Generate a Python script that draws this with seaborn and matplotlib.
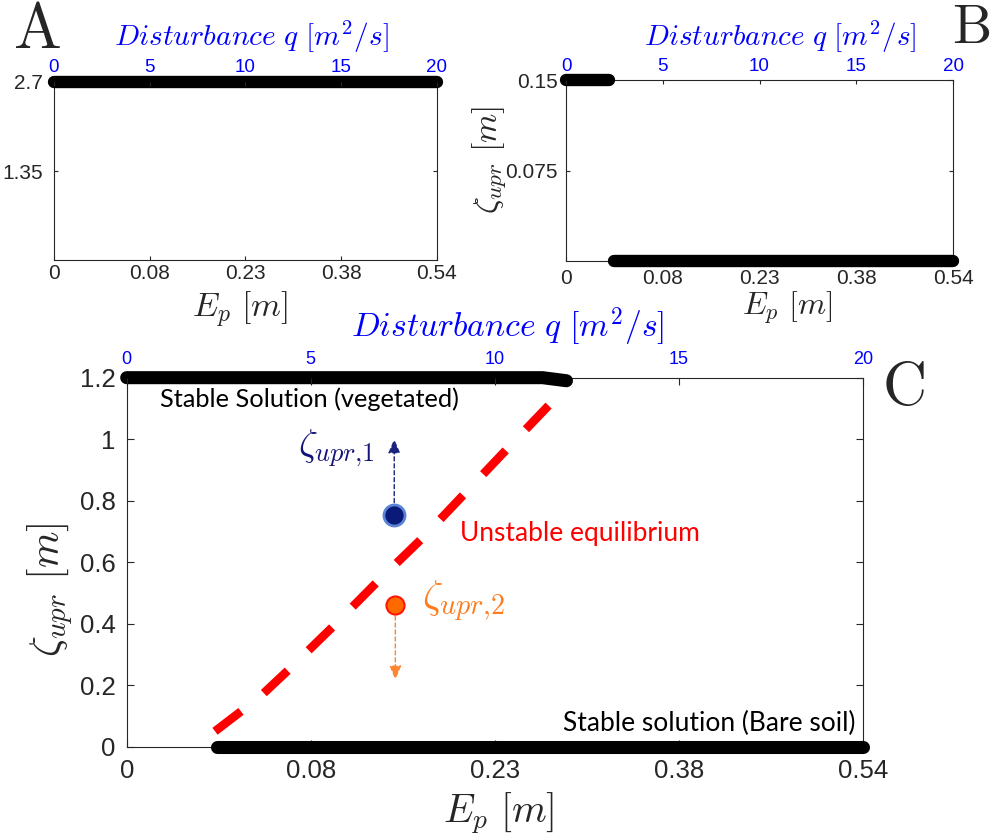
import matplotlib
matplotlib.use('Agg')
import matplotlib.pyplot as plt
import seaborn as sns

sns.set_theme(style='white')
plt.rcParams['font.family'] = ['Liberation Sans', 'DejaVu Sans']
plt.rcParams['mathtext.fontset'] = 'cm'

# ---------------- data ----------------
q_ticks = [0, 5, 10, 15, 20]
ep_labels = ['0', '0.08', '0.23', '0.38', '0.54']

# panel A
a_q = [0, 20]
a_zeta = [2.7, 2.7]
a_yticks = [1.35, 2.7]

# panel B
b_veg_q = [0, 2.2]
b_veg_zeta = [0.15, 0.15]
b_bare_q = [2.5, 20]
b_bare_zeta = [0, 0]
b_yticks = [0.075, 0.15]

# panel C
c_veg_q = [0, 11.3, 11.95]
c_veg_zeta = [1.2, 1.2, 1.19]
c_bare_q = [2.45, 20]
c_bare_zeta = [0, 0]
c_unst_q = [2.4, 3.6, 4.4, 5.6, 6.8, 8.05, 9.2, 10.35, 11.55]
c_unst_zeta = [0.05, 0.16, 0.25, 0.39, 0.535, 0.68, 0.825, 0.97, 1.12]
c_yticks = [0, 0.2, 0.4, 0.6, 0.8, 1.0, 1.2]
c_ylabels = ['0', '0.2', '0.4', '0.6', '0.8', '1', '1.2']
p1_q, p1_zeta, p1_tip = 7.27, 0.753, 1.0
p2_q, p2_zeta, p2_tip = 7.3, 0.461, 0.218

DARK = '#262626'
BLUE = '#0000ff'


def style_axes(ax, ylim, yticks, ylabels, size, tlen, pad_b, pad_l, top_size, pad_t):
    ax.set_xlim(0, 20)
    ax.set_ylim(*ylim)
    ax.set_xticks(q_ticks)
    ax.set_xticklabels(ep_labels)
    ax.set_yticks(yticks)
    ax.set_yticklabels(ylabels)
    ax.tick_params(axis='x', direction='in', length=tlen, width=0.8, colors=DARK,
                   labelsize=size, pad=pad_b, bottom=True, top=False)
    ax.tick_params(axis='y', direction='in', length=tlen, width=0.8, colors=DARK,
                   labelsize=size, pad=pad_l, left=True, right=True)
    for s in ax.spines.values():
        s.set_color(DARK)
        s.set_linewidth(0.8)
    ax.set_xlabel('')
    ax.set_ylabel('')
    top = ax.twiny()
    top.set_xlim(0, 20)
    top.set_xticks(q_ticks)
    top.tick_params(axis='x', direction='in', length=tlen, width=0.8, color=DARK,
                    labelcolor=BLUE, labelsize=top_size, pad=pad_t)
    for s in top.spines.values():
        s.set_visible(False)
    return top


fig = plt.figure(figsize=(9.96, 8.35), dpi=100)
axA = fig.add_axes([0.0542, 0.6886, 0.3845, 0.2132])
axB = fig.add_axes([0.5683, 0.6874, 0.3886, 0.2164])
axC = fig.add_axes([0.1272, 0.1058, 0.7390, 0.4419])

# ---------- A ----------
sns.lineplot(x=a_q, y=a_zeta, ax=axA, color='black', lw=8.9,
             solid_capstyle='round', clip_on=False, zorder=5)
topA = style_axes(axA, (0, 2.7), a_yticks, ['1.35', '2.7'], 15, 3, 3, 8, 13.5, 4)
axA.set_xlabel(r'$E_p\ [m]$', fontsize=24.5, va='center', ha='center')
axA.xaxis.set_label_coords(0.486, -0.275)
topA.set_xlabel(r'$Disturbance\ q\ [m^2/s]$', fontsize=21.2, color=BLUE,
                va='center', ha='center')
topA.xaxis.set_label_coords(0.514, 1.253)

# ---------- B ----------
sns.lineplot(x=b_veg_q, y=b_veg_zeta, ax=axB, color='black', lw=8.9,
             solid_capstyle='round', clip_on=False, zorder=5)
sns.lineplot(x=b_bare_q, y=b_bare_zeta, ax=axB, color='black', lw=8.9,
             solid_capstyle='round', clip_on=False, zorder=5)
topB = style_axes(axB, (0, 0.15), b_yticks, ['0.075', '0.15'], 15, 3, 6, 6, 13.5, 4)
axB.set_xlabel(r'$E_p\ [m]$', fontsize=23, va='center', ha='center')
axB.xaxis.set_label_coords(0.571, -0.26)
axB.set_ylabel(r'$\zeta_{upr}\ [m]$', fontsize=24, va='center', ha='center')
axB.yaxis.set_label_coords(-0.2, 0.559)
topB.set_xlabel(r'$Disturbance\ q\ [m^2/s]$', fontsize=21, color=BLUE,
                va='center', ha='center')
topB.xaxis.set_label_coords(0.553, 1.24)

# ---------- C ----------
sns.lineplot(x=c_veg_q, y=c_veg_zeta, ax=axC, color='black', lw=9.4,
             solid_capstyle='round', clip_on=False, zorder=5)
sns.lineplot(x=c_bare_q, y=c_bare_zeta, ax=axC, color='black', lw=9.4,
             solid_capstyle='round', clip_on=False, zorder=5)
sns.lineplot(x=c_unst_q, y=c_unst_zeta, ax=axC, color='#ff0000', lw=6.2,
             linestyle=(0, (3.8, 3.4)), dash_capstyle='butt', zorder=4)

axC.annotate('', xy=(p1_q, p1_tip), xytext=(p1_q, p1_zeta),
             arrowprops=dict(arrowstyle='-|>,head_length=0.7,head_width=0.3',
                             color='#1a237e', lw=1.0, ls=(0, (3, 2)),
                             shrinkA=9, shrinkB=0))
axC.annotate('', xy=(p2_q, p2_tip), xytext=(p2_q, p2_zeta),
             arrowprops=dict(arrowstyle='-|>,head_length=0.7,head_width=0.3',
                             color='#ff8533', lw=1.0, ls=(0, (3, 2)),
                             shrinkA=8, shrinkB=0))
sns.scatterplot(x=[p1_q], y=[p1_zeta], ax=axC, s=230, color='#0a1a78',
                edgecolor='#5b84d6', linewidth=2, zorder=6)
sns.scatterplot(x=[p2_q], y=[p2_zeta], ax=axC, s=170, color='#ff6a00',
                edgecolor='#ff1500', linewidth=1.5, zorder=6)

topC = style_axes(axC, (0, 1.2), c_yticks, c_ylabels, 18.5, 5, 9, 8, 13, 7)
axC.set_xlabel(r'$E_p\ [m]$', fontsize=28.5, va='center', ha='center')
axC.xaxis.set_label_coords(0.506, -0.18)
axC.set_ylabel(r'$\zeta_{upr}\ [m]$', fontsize=30, va='center', ha='center')
axC.yaxis.set_label_coords(-0.104, 0.425)
topC.set_xlabel(r'$Disturbance\ q\ [m^2/s]$', fontsize=24.2, color=BLUE,
                va='center', ha='center')
topC.xaxis.set_label_coords(0.517, 1.136)

axC.text(0.9, 1.131, 'Stable Solution (vegetated)', family='Lato', fontsize=18.3,
         color='black', va='center', ha='left')
axC.text(9.05, 0.692, 'Unstable equilibrium', family='Lato', fontsize=19,
         color='#ff0000', va='center', ha='left')
axC.text(19.8, 0.074, 'Stable solution (Bare soil)', family='Lato', fontsize=19,
         color='black', va='center', ha='right')
axC.text(5.71, 0.971, r'$\zeta_{upr{,}1}$', fontsize=27, color='#14147a',
         va='center', ha='center')
axC.text(9.16, 0.474, r'$\zeta_{upr{,}2}$', fontsize=29, color='#ff7b1c',
         va='center', ha='center')

# panel letters
fig.text(0.0371, 0.963, r'$\mathrm{A}$', fontsize=46, ha='center', va='center')
fig.text(0.975, 0.965, r'$\mathrm{B}$', fontsize=40, ha='center', va='center')
fig.text(0.9066, 0.534, r'$\mathrm{C}$', fontsize=44, ha='center', va='center')

fig.savefig('out.png', dpi=100)
